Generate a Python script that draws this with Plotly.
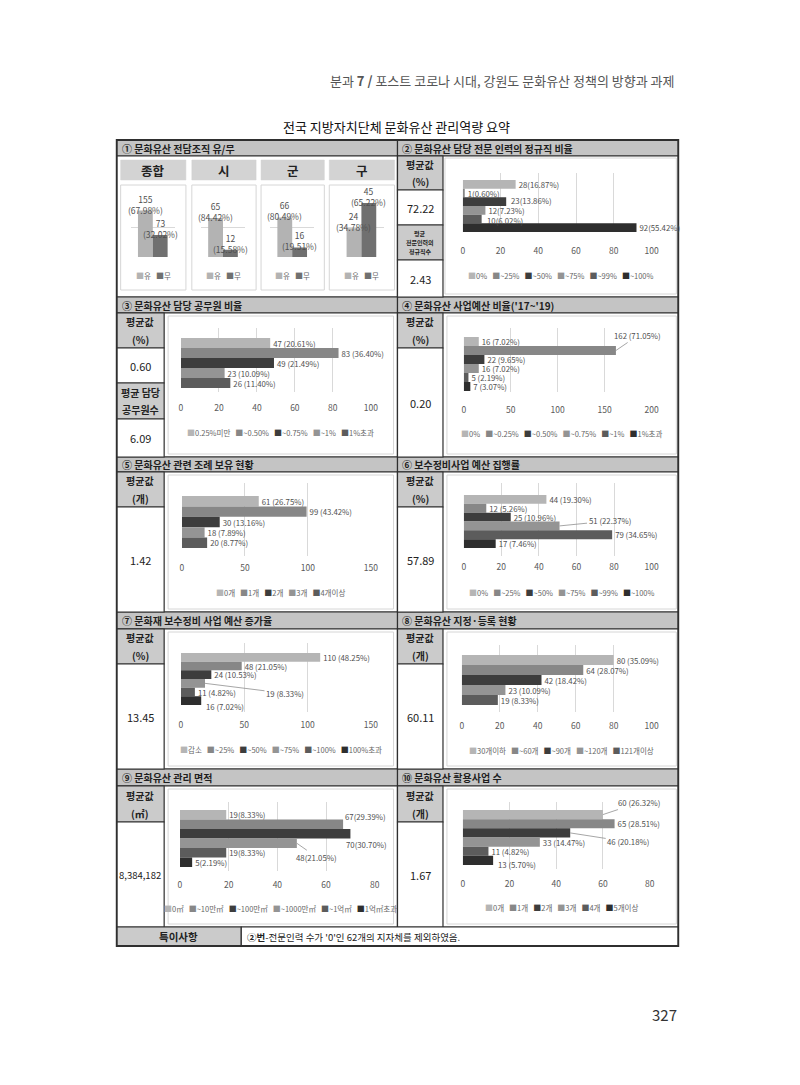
import plotly.graph_objects as go

W, H = 800, 1085
FONT = "Noto Sans CJK KR"


def X(px):
    return px / W


def Y(py):
    return 1 - py / H


# ---------------- data ----------------
p1_groups = ['종합', '시', '군', '구']
p1_series = ['유', '무']
p1_yes = [155, 65, 66, 24]
p1_no = [73, 12, 16, 45]
p1_yes_pct = [67.98, 84.42, 80.49, 34.78]
p1_no_pct = [32.02, 15.58, 19.51, 65.22]
p1_ymax = [200, 100, 100, 50]

p2_cats = ['0%', '~25%', '~50%', '~75%', '~99%', '~100%']
p2_vals = [28, 1, 23, 12, 10, 92]
p2_pct = [16.87, 0.60, 13.86, 7.23, 6.02, 55.42]

p3_cats = ['0.25%미만', '~0.50%', '~0.75%', '~1%', '1%초과']
p3_vals = [47, 83, 49, 23, 26]
p3_pct = [20.61, 36.40, 21.49, 10.09, 11.40]

p4_cats = ['0%', '~0.25%', '~0.50%', '~0.75%', '~1%', '1%초과']
p4_vals = [16, 162, 22, 16, 5, 7]
p4_pct = [7.02, 71.05, 9.65, 7.02, 2.19, 3.07]

p5_cats = ['0개', '1개', '2개', '3개', '4개이상']
p5_vals = [61, 99, 30, 18, 20]
p5_pct = [26.75, 43.42, 13.16, 7.89, 8.77]

p6_cats = ['0%', '~25%', '~50%', '~75%', '~99%', '~100%']
p6_vals = [44, 12, 25, 51, 79, 17]
p6_pct = [19.30, 5.26, 10.96, 22.37, 34.65, 7.46]

p7_cats = ['감소', '~25%', '~50%', '~75%', '~100%', '100%초과']
p7_vals = [110, 48, 24, 19, 11, 16]
p7_pct = [48.25, 21.05, 10.53, 8.33, 4.82, 7.02]

p8_cats = ['30개이하', '~60개', '~90개', '~120개', '121개이상']
p8_vals = [80, 64, 42, 23, 19]
p8_pct = [35.09, 28.07, 18.42, 10.09, 8.33]

p9_cats = ['0㎡', '~10만㎡', '~100만㎡', '~1000만㎡', '~1억㎡', '1억㎡초과']
p9_vals = [19, 67, 70, 48, 19, 5]
p9_pct = [8.33, 29.39, 30.70, 21.05, 8.33, 2.19]

p10_cats = ['0개', '1개', '2개', '3개', '4개', '5개이상']
p10_vals = [60, 65, 46, 33, 11, 13]
p10_pct = [26.32, 28.51, 20.18, 14.47, 4.82, 5.70]

left_titles = ['① 문화유산 전담조직 유/무', '③ 문화유산 담당 공무원 비율', '⑤ 문화유산 관련 조례 보유 현황',
               '⑦ 문화재 보수정비 사업 예산 증가율', '⑨ 문화유산 관리 면적']
right_titles = ['② 문화유산 담당 전문 인력의 정규직 비율', "④ 문화유산 사업예산 비율('17~'19)", '⑥ 보수정비사업 예산 집행률',
                '⑧ 문화유산 지정·등록 현황', '⑩ 문화유산 활용사업 수']

avg_labels = {
    2: [('평균값<br>(%)', True), ('72.22', False), ('평균<br>전문인력의<br>정규직수', True), ('2.43', False)],
    3: [('평균값<br>(%)', True), ('0.60', False), ('평균 담당<br>공무원수', True), ('6.09', False)],
    4: [('평균값<br>(%)', True), ('0.20', False)],
    5: [('평균값<br>(개)', True), ('1.42', False)],
    6: [('평균값<br>(%)', True), ('57.89', False)],
    7: [('평균값<br>(%)', True), ('13.45', False)],
    8: [('평균값<br>(개)', True), ('60.11', False)],
    9: [('평균값<br>(㎡)', True), ('8,384,182', False)],
    10: [('평균값<br>(개)', True), ('1.67', False)],
}

note_label = '특이사항'
note_text = "<b>②번</b>-전문인력 수가 '0'인 62개의 지자체를 제외하였음."
page_header = '분과 <b>7 /</b> 포스트 코로나 시대, 강원도 문화유산 정책의 방향과 과제'
title = '전국 지방자치단체 문화유산 관리역량 요약'
page_no = '327'

# ---------------- styles ----------------
COLORS6 = ['#b5b5b5', '#878787', '#3d3d3d', '#949494', '#5c5c5c', '#2e2e2e']
P1_COLORS = ['#b3b3b3', '#707070']
GRAY_H = '#c4c4c4'
GRAY_L = '#cbcbcb'
GRID = '#d9d9d9'
BORDER = '#2f2f2f'
LABEL_C = '#505050'
LABEL_FS = 7.8

fig = go.Figure()
shapes = []
ann = []


def rect(x0, y0, x1, y1, fill, line=BORDER, lw=1.2):
    shapes.append(dict(type='rect', xref='paper', yref='paper', x0=X(x0), x1=X(x1), y0=Y(y1), y1=Y(y0),
                       fillcolor=fill, line=dict(color=line, width=lw), layer='below'))


def text(x, y, s, size=10, color='#222', bold=False, xanchor='center', yanchor='middle'):
    ann.append(dict(xref='paper', yref='paper', x=X(x), y=Y(y), text=('<b>%s</b>' % s) if bold else s,
                    showarrow=False, font=dict(size=size, color=color, family=FONT),
                    xanchor=xanchor, yanchor=yanchor))


def legend_ann(cx, cy, cats, colors, size=7.5):
    parts = ["<span style='color:%s;font-size:8px'>■</span>%s" % (c, t) for t, c in zip(cats, colors)]
    text(cx, cy, '\u00a0\u00a0\u00a0'.join(parts), size=size, color='#666')


# ---------------- table ----------------
rows = [(140, 156, 297), (297, 313, 457), (457, 472, 612), (612, 629, 769), (769, 786, 927)]
for r, (ht, hb, cb) in enumerate(rows):
    rect(116, ht, 400, hb, GRAY_H)
    rect(400, ht, 684, hb, GRAY_H)
    rect(116, hb, 400, cb, 'white')
    rect(400, hb, 684, cb, 'white')
    text(119, (ht + hb) / 2, left_titles[r], size=10, bold=True, xanchor='left', color='#1e1e1e')
    text(403, (ht + hb) / 2, right_titles[r], size=10, bold=True, xanchor='left', color='#1e1e1e')

label_cells = {
    2: (400, 446, [156, 190, 225, 260, 297]),
    3: (116, 164, [313, 348, 383, 419, 457]),
    4: (400, 446, [313, 348, 457]),
    5: (116, 164, [472, 507, 612]),
    6: (400, 446, [472, 507, 612]),
    7: (116, 164, [629, 664, 769]),
    8: (400, 446, [629, 664, 769]),
    9: (116, 164, [786, 822, 927]),
    10: (400, 446, [786, 822, 927]),
}
for pid, (x0, x1, ys) in label_cells.items():
    for i, (s, is_label) in enumerate(avg_labels[pid]):
        y0, y1 = ys[i], ys[i + 1]
        rect(x0, y0, x1, y1, GRAY_L if is_label else 'white')
        lines = s.split('<br>')
        n = len(lines)
        small = n >= 3
        for j, ln in enumerate(lines):
            if small:
                yy = (y0 + y1) / 2 + (j - (n - 1) / 2) * 9
            else:
                yy = y0 + (j + 0.5) * (y1 - y0) / n
            if is_label:
                text((x0 + x1) / 2, yy, ln, size=6 if small else 10, bold=True, color='#222')
            else:
                text((x0 + x1) / 2, yy, ln, size=9.5 if len(ln) > 6 else 11, color='#222')

# note row
rect(116, 927, 242, 946, GRAY_L)
rect(242, 927, 684, 946, 'white')
text(179, 936.5, note_label, size=10.5, bold=True)
text(246, 936.5, note_text, size=9.5, xanchor='left')
# outer border
shapes.append(dict(type='rect', xref='paper', yref='paper', x0=X(116), x1=X(684), y0=Y(946), y1=Y(140),
                   line=dict(color=BORDER, width=1.8), layer='below'))

# page texts
text(683, 80, page_header, size=13, color='#555', xanchor='right')
text(399, 127, title, size=13, color='#111')
text(670, 1015, page_no, size=15, color='#333')

layout_axes = {}

# ---------------- panel 1 (vertical bars) ----------------
p1_boxes = [(120, 186), (192, 257), (262, 326), (331, 397)]
p1_plot_x = [(130, 175), (201, 246), (271, 316), (341, 386)]
for g in range(4):
    k = g + 1
    sx = '' if k == 1 else str(k)
    bx0, bx1 = p1_boxes[g]
    rect(bx0, 160, bx1, 180, '#d3d3d3', line='#d3d3d3', lw=0.5)
    text((bx0 + bx1) / 2, 170, p1_groups[g], size=12.5, bold=True, color='#222')
    rect(bx0, 185, bx1, 290, 'white', line='#d6d6d6', lw=1)
    vals = [p1_yes[g], p1_no[g]]
    pcts = [p1_yes_pct[g], p1_no_pct[g]]
    for i in range(2):
        fig.add_trace(go.Bar(x=[i], y=[vals[i]], width=1, marker=dict(color=P1_COLORS[i], line=dict(width=0)),
                             xaxis='x' + sx, yaxis='y' + sx, showlegend=False, name=p1_series[i]))
        ann.append(dict(xref='x' + sx, yref='y' + sx, x=i, y=vals[i], text='%d<br>(%.2f%%)' % (vals[i], pcts[i]),
                        showarrow=False, yanchor='bottom', yshift=-7,
                        font=dict(size=8.5, color=LABEL_C, family=FONT)))
    layout_axes['xaxis' + sx] = dict(domain=[X(p1_plot_x[g][0]), X(p1_plot_x[g][1])], range=[-1, 2],
                                     visible=False, anchor='y' + sx, fixedrange=True)
    layout_axes['yaxis' + sx] = dict(domain=[Y(257), Y(197)], range=[0, p1_ymax[g]], dtick=p1_ymax[g] / 2,
                                     showgrid=True, gridcolor=GRID, gridwidth=1, zeroline=False,
                                     showticklabels=False, anchor='x' + sx, fixedrange=True)
    legend_ann((bx0 + bx1) / 2, 276, p1_series, P1_COLORS)

# ---------------- horizontal panels ----------------
# moved: label index -> (dx px, dy px, leader line?)
hspecs = [
    dict(cats=p2_cats, vals=p2_vals, pct=p2_pct, sep='', xmax=100, dtick=20, x0=466, x1=657,
         gt=173, gb=232, bt=180, bb=232, tick_y=253, leg_y=275, box=(448, 158, 682, 294),
         moved={2: (0, -1, False), 4: (0, 1, False)}),
    dict(cats=p3_cats, vals=p3_vals, pct=p3_pct, sep=' ', xmax=100, dtick=20, x0=181, x1=373,
         gt=328, gb=392, bt=338, bb=388, tick_y=410, leg_y=432, box=(168, 316, 396, 454), moved={}),
    dict(cats=p4_cats, vals=p4_vals, pct=p4_pct, sep=' ', xmax=200, dtick=50, x0=467, x1=657,
         gt=328, gb=392, bt=337, bb=391, tick_y=412, leg_y=433, box=(450, 316, 682, 454),
         moved={1: (22, -15, True)}),
    dict(cats=p5_cats, vals=p5_vals, pct=p5_pct, sep=' ', xmax=150, dtick=50, x0=182, x1=373,
         gt=483, gb=556, bt=496, bb=548, tick_y=570, leg_y=592, box=(168, 475, 396, 609), moved={}),
    dict(cats=p6_cats, vals=p6_vals, pct=p6_pct, sep=' ', xmax=100, dtick=20, x0=467, x1=657,
         gt=483, gb=556, bt=495, bb=548, tick_y=569, leg_y=592, box=(450, 475, 682, 609),
         moved={3: (50, -5, True)}),
    dict(cats=p7_cats, vals=p7_vals, pct=p7_pct, sep=' ', xmax=150, dtick=50, x0=181, x1=373,
         gt=643, gb=712, bt=653, bb=705, tick_y=727, leg_y=749, box=(168, 632, 396, 766),
         moved={3: (80, 10, True), 5: (0, 6, False)}),
    dict(cats=p8_cats, vals=p8_vals, pct=p8_pct, sep=' ', xmax=100, dtick=20, x0=465, x1=657,
         gt=645, gb=712, bt=655, bb=705, tick_y=728, leg_y=750, box=(450, 632, 682, 766), moved={}),
    dict(cats=p9_cats, vals=p9_vals, pct=p9_pct, sep='', xmax=80, dtick=20, x0=180, x1=377,
         gt=802, gb=871, bt=810, bb=867, tick_y=887, leg_y=908, box=(168, 789, 396, 924),
         moved={1: (-3, -8, False), 2: (-9, 11, False), 3: (20, 14, True)}),
    dict(cats=p10_cats, vals=p10_vals, pct=p10_pct, sep=' ', xmax=80, dtick=20, x0=466, x1=655,
         gt=802, gb=869, bt=810, bb=865, tick_y=886, leg_y=907, box=(450, 789, 682, 924),
         moved={0: (36, -12, True), 2: (58, 9, True), 5: (0, 4, False)}),
]

for idx, sp in enumerate(hspecs):
    k = idx + 5
    sx = str(k)
    bx0, by0, bx1, by1 = sp['box']
    rect(bx0, by0, bx1, by1, 'white', line='#d6d6d6', lw=1)
    n = len(sp['vals'])
    unit = (sp['bb'] - sp['bt']) / n
    yr = [n - 0.5 + (sp['gb'] - sp['bb']) / unit, -0.5 - (sp['bt'] - sp['gt']) / unit]
    for i in range(n):
        lab = '%d%s(%.2f%%)' % (sp['vals'][i], sp['sep'], sp['pct'][i])
        moved = sp['moved'].get(i)
        fig.add_trace(go.Bar(x=[sp['vals'][i]], y=[i], orientation='h', width=1,
                             marker=dict(color=COLORS6[i], line=dict(width=0)),
                             text=[lab] if moved is None else None,
                             textposition='outside', cliponaxis=False, constraintext='none',
                             textfont=dict(size=LABEL_FS, color=LABEL_C, family=FONT),
                             xaxis='x' + sx, yaxis='y' + sx, showlegend=False, name=sp['cats'][i]))
        if moved is not None:
            dx, dy, arrow = moved
            a = dict(xref='x' + sx, yref='y' + sx, x=sp['vals'][i], y=i, text=lab,
                     font=dict(size=LABEL_FS, color=LABEL_C, family=FONT))
            if arrow:
                a.update(showarrow=True, arrowhead=0, arrowwidth=0.8, arrowcolor='#8f8f8f',
                         ax=dx, ay=dy, standoff=0)
            else:
                a.update(showarrow=False, xanchor='left', xshift=3 + dx, yshift=-dy)
            ann.append(a)
    layout_axes['xaxis' + sx] = dict(domain=[X(sp['x0']), X(sp['x1'])], range=[0, sp['xmax']], dtick=sp['dtick'],
                                     showgrid=True, gridcolor=GRID, gridwidth=1, zeroline=False, showline=False,
                                     ticks='', tickfont=dict(size=8.5, color='#5a5a5a', family=FONT),
                                     ticklabelstandoff=max(0, sp['tick_y'] - sp['gb'] - 9),
                                     anchor='y' + sx, fixedrange=True)
    layout_axes['yaxis' + sx] = dict(domain=[Y(sp['gb']), Y(sp['gt'])], range=yr, showgrid=False,
                                     zeroline=False, showticklabels=False, anchor='x' + sx, fixedrange=True)
    legend_ann((bx0 + bx1) / 2, sp['leg_y'], sp['cats'], COLORS6[:n])

fig.update_layout(
    width=W, height=H, margin=dict(l=0, r=0, t=0, b=0),
    paper_bgcolor='white', plot_bgcolor='rgba(0,0,0,0)',
    barmode='overlay', showlegend=False,
    font=dict(family=FONT, size=10, color='#333'),
    shapes=shapes, annotations=ann,
    **layout_axes,
)

fig.write_html('out.html')
